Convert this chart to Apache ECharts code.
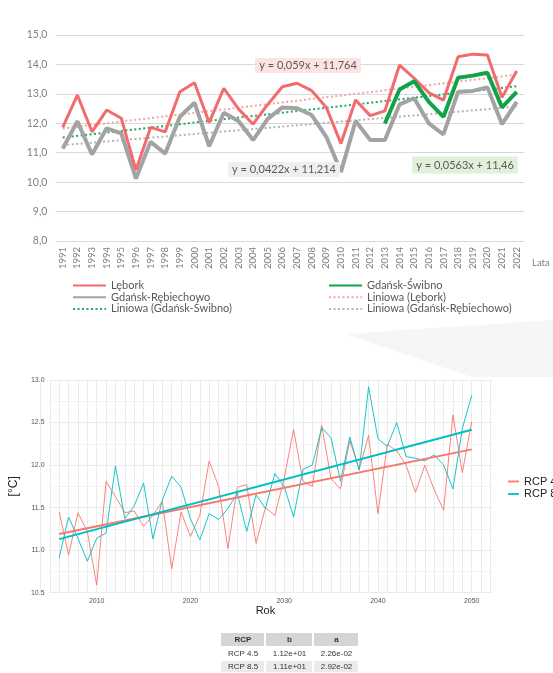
<!DOCTYPE html>
<html><head><meta charset="utf-8">
<script src="https://cdn.jsdelivr.net/npm/echarts@6/dist/echarts.min.js"></script>
<style>html,body{margin:0;padding:0;background:#fff}#c{width:553px;height:673px}</style>
</head><body><div id="c"></div>
<script>
// ---------- Top chart data ----------
const years1 = ['1991','1992','1993','1994','1995','1996','1997','1998','1999','2000','2001','2002','2003','2004','2005','2006','2007','2008','2009','2010','2011','2012','2013','2014','2015','2016','2017','2018','2019','2020','2021','2022'];
const lebork = [11.86,12.96,11.71,12.45,12.17,10.41,11.86,11.71,13.07,13.38,12.02,13.19,12.49,11.97,12.64,13.24,13.36,13.11,12.54,11.31,12.79,12.26,12.42,13.98,13.53,13.04,12.79,14.26,14.35,14.32,12.88,13.78];
const rebiechowo = [11.14,12.07,10.94,11.83,11.66,10.12,11.37,10.97,12.22,12.70,11.22,12.36,12.08,11.43,12.15,12.54,12.51,12.28,11.54,10.35,12.08,11.43,11.43,12.64,12.85,12.00,11.62,13.07,13.10,13.22,11.97,12.73];
const swibno = [null,null,null,null,null,null,null,null,null,null,null,null,null,null,null,null,null,null,null,null,null,null,11.99,13.15,13.43,12.73,12.22,13.55,13.62,13.72,12.54,13.07];
const trendNames = ['Liniowa (Lębork)','Liniowa (Gdańsk-Świbno)','Liniowa (Gdańsk-Rębiechowo)'];
const trendSlopes = [0.059, 0.0563, 0.0422];
const trendIntercepts = [11.764, 11.46, 11.214];
const trendLabels = ['y = 0,059x + 11,764','y = 0,0563x + 11,46','y = 0,0422x + 11,214'];
const yTicks1 = [8,9,10,11,12,13,14,15];

// ---------- Bottom chart data ----------
const rcpYears = [2006,2007,2008,2009,2010,2011,2012,2013,2014,2015,2016,2017,2018,2019,2020,2021,2022,2023,2024,2025,2026,2027,2028,2029,2030,2031,2032,2033,2034,2035,2036,2037,2038,2039,2040,2041,2042,2043,2044,2045,2046,2047,2048,2049,2050];
const rcp45 = [11.45,10.94,11.44,11.22,10.59,11.81,11.63,11.44,11.46,11.28,11.41,11.57,10.78,11.45,11.16,11.41,12.05,11.75,11.02,11.74,11.77,11.08,11.50,11.41,11.84,12.42,11.81,11.75,12.47,11.84,11.72,12.29,11.95,12.35,11.43,12.24,12.17,12.00,11.68,12.00,11.71,11.47,12.59,11.91,12.51];
const rcp85 = [10.91,11.39,11.14,10.87,11.14,11.20,11.99,11.37,11.52,11.79,11.13,11.59,11.87,11.74,11.37,11.12,11.43,11.36,11.49,11.67,11.22,11.65,11.49,11.90,11.75,11.39,11.95,12.00,12.44,12.32,11.81,12.33,11.94,12.92,12.31,12.22,12.50,12.10,12.08,12.05,12.12,12.00,11.72,12.43,12.82];
const rcpNames = ['RCP 4.5','RCP 8.5'];
const fitIntercepts2006 = [11.19, 11.13];
const fitSlopes = [0.0226, 0.0292];
const tableHeader = ['RCP','b','a'];
const tableRows = [['RCP 4.5','1.12e+01','2.26e-02'],['RCP 8.5','1.11e+01','2.92e-02']];

// ---------- build ----------
const n1 = years1.length;
function trendData(i){
  const arr = years1.map(()=>null);
  arr[0] = +(trendSlopes[i]*1 + trendIntercepts[i]).toFixed(4);
  arr[n1-1] = +(trendSlopes[i]*n1 + trendIntercepts[i]).toFixed(4);
  return arr;
}
const y0 = rcpYears[0], yN = rcpYears[rcpYears.length-1];
function fitData(i){
  return [[y0, fitIntercepts2006[i]], [yN, +(fitIntercepts2006[i] + fitSlopes[i]*(yN-y0)).toFixed(4)]];
}
const topFont = 'Lato, "Open Sans", sans-serif';
const botFont = '"Liberation Sans", Arial, sans-serif';
const RED='#f26b6e', GRAY='#a3a3a3', GREEN='#12a34a';
const TRED='#f5a3a3', TGREEN='#22a859', TGRAY='#b3b3b3';
const C45='#F8766D', C85='#00BFC4';

// table graphics
const colX=[221,266,314], colW=[44,47,45];
const rowY=[633,648,661], rowH=[14,12,12];
const rowFill=['#d5d5d5','#ffffff','#ebebeb'];
const tableG=[];
[tableHeader].concat(tableRows).forEach((row,r)=>{
  row.forEach((cell,c)=>{
    tableG.push({type:'rect',shape:{x:colX[c],y:rowY[r],width:colW[c]-1,height:rowH[r]-1},style:{fill:rowFill[r]},silent:true});
    tableG.push({type:'text',x:colX[c]+colW[c]/2,y:rowY[r]+rowH[r]/2,style:{text:cell,align:'center',verticalAlign:'middle',fontSize:8,fontWeight:r===0?'bold':'normal',fill:'#333',fontFamily:botFont},silent:true});
  });
});

const noSym = {opacity:0};
const chart = echarts.init(document.getElementById('c'));
chart.setOption({
  animation:false,
  backgroundColor:'#fff',
  grid:[
    {left:55.4, top:35, width:468.6, height:206},
    {left:40, top:380, width:453, height:212.7},
    {left:40.45, top:380, width:450, height:212.7}
  ],
  xAxis:[
    {type:'category',gridIndex:0,data:years1,boundaryGap:true,axisLine:{show:false},axisTick:{show:false},
     axisLabel:{rotate:90,interval:0,fontSize:9.5,color:'#7f7f7f',margin:6,fontFamily:topFont},splitLine:{show:false}},
    {type:'value',gridIndex:1,min:0,max:1,show:false},
    {type:'value',gridIndex:2,min:2004,max:2052,interval:1,axisLine:{show:false},axisTick:{show:false},
     axisLabel:{fontSize:7,color:'#555',margin:5,fontFamily:botFont,formatter:v=>(v%10===0?String(v):'')},
     splitLine:{show:true,lineStyle:{color:'#ebebeb',width:1}},
     name:'Rok',nameLocation:'middle',nameGap:11,nameTextStyle:{fontSize:11,color:'#222',fontFamily:botFont}}
  ],
  yAxis:[
    {type:'value',gridIndex:0,min:yTicks1[0],max:yTicks1[yTicks1.length-1],interval:1,axisLine:{show:false},axisTick:{show:false},
     axisLabel:{fontSize:10.5,color:'#7f7f7f',margin:8,fontFamily:topFont,formatter:v=>v.toFixed(1).replace('.',',')},
     splitLine:{lineStyle:{color:'#d9d9d9',width:1}}},
    {type:'value',gridIndex:1,min:10.5,max:13,interval:0.5,axisLine:{show:false},axisTick:{show:false},
     axisLabel:{fontSize:7,color:'#555',margin:5,fontFamily:botFont,formatter:v=>v.toFixed(1)},
     splitLine:{lineStyle:{color:'#ebebeb',width:1}},
     minorTick:{show:false,splitNumber:2},minorSplitLine:{show:true,lineStyle:{color:'#f4f4f4',width:1}},
     name:'[°C]',nameLocation:'middle',nameRotate:90,nameGap:19,nameTextStyle:{fontSize:12,color:'#222',fontFamily:botFont}},
    {type:'value',gridIndex:2,min:10.5,max:13,show:false}
  ],
  legend:[
    {data:['Lębork','Gdańsk-Rębiechowo','Liniowa (Gdańsk-Świbno)'],orient:'vertical',left:72,top:280,padding:0,itemWidth:33,itemHeight:11,itemGap:0.7,
     itemStyle:noSym,textStyle:{fontSize:11,color:'#595959',fontFamily:topFont,lineHeight:11},selectedMode:false},
    {data:['Gdańsk-Świbno','Liniowa (Lębork)','Liniowa (Gdańsk-Rębiechowo)'],orient:'vertical',left:328,top:280,padding:0,itemWidth:33,itemHeight:11,itemGap:0.7,
     itemStyle:noSym,textStyle:{fontSize:11,color:'#595959',fontFamily:topFont,lineHeight:11},selectedMode:false},
    {data:rcpNames,orient:'vertical',left:507,top:476,padding:0,itemWidth:11,itemHeight:11,itemGap:1.5,
     itemStyle:noSym,textStyle:{fontSize:11,color:'#222',fontFamily:botFont},selectedMode:false}
  ],
  series:[
    {name:trendNames[0],type:'line',xAxisIndex:0,yAxisIndex:0,data:trendData(0),connectNulls:true,symbol:'none',lineStyle:{color:TRED,width:2,type:[2,2.5]},itemStyle:{color:TRED},z:1},
    {name:trendNames[1],type:'line',xAxisIndex:0,yAxisIndex:0,data:trendData(1),connectNulls:true,symbol:'none',lineStyle:{color:TGREEN,width:2,type:[2,2.5]},itemStyle:{color:TGREEN},z:1},
    {name:trendNames[2],type:'line',xAxisIndex:0,yAxisIndex:0,data:trendData(2),connectNulls:true,symbol:'none',lineStyle:{color:TGRAY,width:2,type:[2,2.5]},itemStyle:{color:TGRAY},z:1},
    {name:'Gdańsk-Rębiechowo',type:'line',xAxisIndex:0,yAxisIndex:0,data:rebiechowo,symbol:'none',lineStyle:{color:GRAY,width:4},itemStyle:{color:GRAY},z:2},
    {name:'Lębork',type:'line',xAxisIndex:0,yAxisIndex:0,data:lebork,symbol:'none',lineStyle:{color:RED,width:3},itemStyle:{color:RED},z:3},
    {name:'Gdańsk-Świbno',type:'line',xAxisIndex:0,yAxisIndex:0,data:swibno,symbol:'none',lineStyle:{color:GREEN,width:4},itemStyle:{color:GREEN},z:4},

    {name:rcpNames[0],type:'line',xAxisIndex:2,yAxisIndex:2,data:rcpYears.map((y,i)=>[y,rcp45[i]]),symbol:'none',lineStyle:{color:C45,width:1,opacity:0.9},itemStyle:{color:C45},z:2},
    {name:rcpNames[1],type:'line',xAxisIndex:2,yAxisIndex:2,data:rcpYears.map((y,i)=>[y,rcp85[i]]),symbol:'none',lineStyle:{color:C85,width:1,opacity:0.9},itemStyle:{color:C85},z:2},
    {name:rcpNames[0],type:'line',xAxisIndex:2,yAxisIndex:2,data:fitData(0),symbol:'none',lineStyle:{color:C45,width:2},itemStyle:{color:C45},z:3},
    {name:rcpNames[1],type:'line',xAxisIndex:2,yAxisIndex:2,data:fitData(1),symbol:'none',lineStyle:{color:C85,width:2},itemStyle:{color:C85},z:3}
  ],
  graphic:[
    {type:'polygon',shape:{points:[[345,334],[553,320],[553,377],[472,377]]},style:{fill:'#f6f6f6'},silent:true,z:-10},
    {type:'text',x:308,y:65.5,style:{text:trendLabels[0],align:'center',verticalAlign:'middle',fontSize:11,fill:'#595959',fontFamily:topFont,backgroundColor:'#fde3e3',padding:[2,4]},silent:true,z:50},
    {type:'text',x:465,y:165,style:{text:trendLabels[1],align:'center',verticalAlign:'middle',fontSize:11,fill:'#595959',fontFamily:topFont,backgroundColor:'#e2efda',padding:[3,4]},silent:true,z:50},
    {type:'text',x:284,y:169.5,style:{text:trendLabels[2],align:'center',verticalAlign:'middle',fontSize:11,fill:'#595959',fontFamily:topFont,backgroundColor:'#efefef',padding:[2,4]},silent:true,z:50},
    {type:'text',x:532,y:263,style:{text:'Lata',align:'left',verticalAlign:'middle',fontSize:9.5,fill:'#7f7f7f',fontFamily:topFont},silent:true}
  ].concat(tableG)
});
</script></body></html>
